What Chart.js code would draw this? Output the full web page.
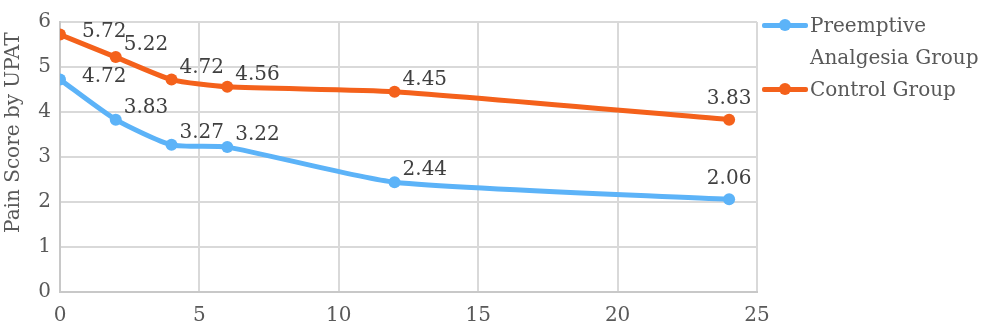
<!DOCTYPE html>
<html>
<head>
<meta charset="utf-8">
<script src="https://cdn.jsdelivr.net/npm/chart.js@4"></script>
<style>
  body { margin: 0; background: #fff; }
  #wrap { position: relative; width: 1000px; height: 329px; }
  #legend { position: absolute; left: 762px; top: 9px; font: 20px "DejaVu Serif", serif; color: #595959; line-height: 32px; }
  .item { display: flex; align-items: flex-start; }
  .key { position: relative; width: 46px; height: 32px; margin-right: 2px; flex: none; }
  .key .ln { position: absolute; left: 0; right: 0; top: 14px; height: 5px; border-radius: 2px; }
  .key .dot { position: absolute; left: 17px; top: 10px; width: 12px; height: 12px; border-radius: 50%; }
</style>
</head>
<body>
<div id="wrap">
  <canvas id="myChart" width="1000" height="329"></canvas>
  <div id="legend"></div>
</div>
<script>
const hours = [0, 2, 4, 6, 12, 24];
const preemptive = [4.72, 3.83, 3.27, 3.22, 2.44, 2.06];
const control = [5.72, 5.22, 4.72, 4.56, 4.45, 3.83];
const seriesNames = ['Preemptive Analgesia Group', 'Control Group'];
const yTitle = 'Pain Score by UPAT';
const colors = ['#5cb3f8', '#f4611b'];

const FONT = '"DejaVu Serif", serif';

// value labels next to each point, plus the y title
const pointLabels = {
  id: 'pointLabels',
  afterDatasetsDraw(chart) {
    const c = chart.ctx;
    c.save();
    c.font = '20px ' + FONT;
    c.fillStyle = '#404040';
    c.textBaseline = 'middle';
    chart.data.datasets.forEach((ds, di) => {
      const meta = chart.getDatasetMeta(di);
      meta.data.forEach((pt, i) => {
        const txt = ds.data[i].y.toFixed(2);
        if (i === 0) {
          c.textAlign = 'left';
          c.fillText(txt, pt.x + 22, pt.y - 3);
        } else if (i === meta.data.length - 1) {
          c.textAlign = 'center';
          c.fillText(txt, pt.x, pt.y - 21);
        } else {
          c.textAlign = 'left';
          c.fillText(txt, pt.x + 8, pt.y - 12);
        }
      });
    });
    // y axis title, a bit above the middle like the original
    c.fillStyle = '#595959';
    c.textAlign = 'center';
    c.translate(14, chart.chartArea.top + (chart.chartArea.bottom - chart.chartArea.top) * 0.41);
    c.rotate(-Math.PI / 2);
    c.fillText(yTitle, 0, 0);
    c.restore();
  }
};

const ctx1 = document.getElementById('myChart');

new Chart(ctx1, {
  type: 'line',
  data: {
    datasets: [preemptive, control].map((vals, k) => ({
      label: seriesNames[k],
      data: hours.map((h, i) => ({ x: h, y: vals[i] })),
      borderColor: colors[k],
      backgroundColor: colors[k],
      borderWidth: 5,
      pointRadius: 6,
      pointBorderWidth: 0,
      tension: 0.2
    }))
  },
  options: {
    responsive: false,
    animation: false,
    layout: { padding: { top: 22, right: 243, left: 0, bottom: 0 } },
    plugins: {
      legend: { display: false },
      tooltip: { enabled: false }
    },
    scales: {
      x: {
        type: 'linear',
        min: 0,
        max: 25,
        ticks: { stepSize: 5, color: '#595959', font: { family: FONT, size: 20 }, padding: 12 },
        grid: { color: '#d9d9d9', lineWidth: 2, drawTicks: false },
        border: { color: '#c8c8c8', width: 2 },
        afterFit(s) { s.height = 37; }
      },
      y: {
        min: 0,
        max: 6,
        ticks: { stepSize: 1, color: '#595959', font: { family: FONT, size: 20 }, padding: 9 },
        grid: { color: '#d9d9d9', lineWidth: 2, drawTicks: false },
        border: { color: '#c8c8c8', width: 2 },
        afterFit(s) { s.width = 60; }
      }
    }
  },
  plugins: [pointLabels]
});

// legend
const lg = document.getElementById('legend');
seriesNames.forEach((name, k) => {
  const it = document.createElement('div');
  it.className = 'item';
  it.innerHTML = '<div class="key"><div class="ln" style="background:' + colors[k] + '"></div><div class="dot" style="background:' + colors[k] + '"></div></div>' +
    '<div style="width:190px">' + name + '</div>';
  lg.appendChild(it);
});
</script>
</body>
</html>
